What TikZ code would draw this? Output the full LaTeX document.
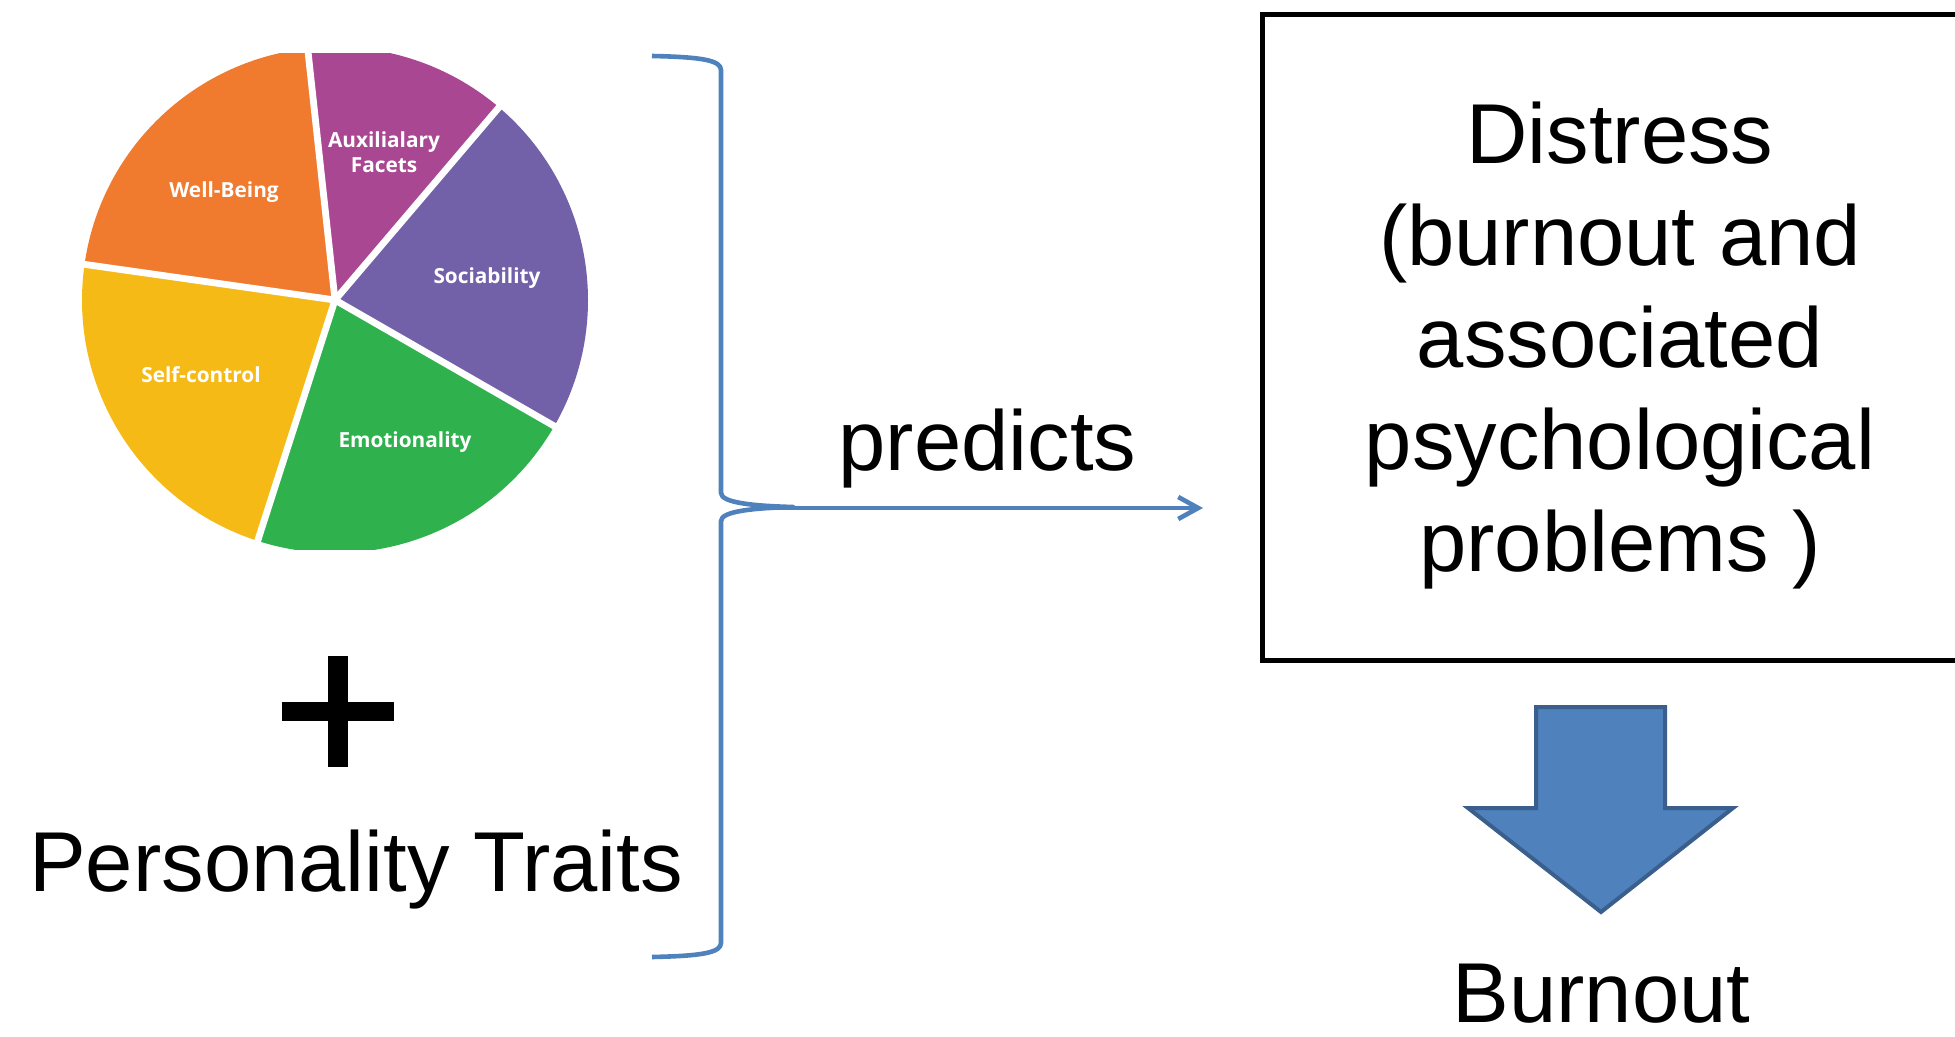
\documentclass[tikz,border=0pt]{standalone}
\usepackage{fontspec}
\setmainfont{Liberation Sans}
\newfontfamily\piefont{Open Sans}
\usetikzlibrary{arrows.meta}
\definecolor{cOrange}{RGB}{240,122,45}
\definecolor{cMagenta}{RGB}{170,71,146}
\definecolor{cViolet}{RGB}{114,97,169}
\definecolor{cGreen}{RGB}{47,177,77}
\definecolor{cYellow}{RGB}{246,186,23}
\definecolor{cBlue}{RGB}{79,129,189}
\definecolor{cBlueDark}{RGB}{58,95,140}
\tikzset{
  bigtext/.style={font=\fontsize{42.5}{51}\selectfont, inner sep=0pt, text=black},
  pielabel/.style={font=\piefont\bfseries\fontsize{10.4}{12.5}\selectfont, text=white, inner sep=0pt},
  sep/.style={white, line width=3.4pt},
  braceline/.style={cBlue, line width=2.3pt, line join=round},
  blockarrow/.style={fill=cBlue, draw=cBlueDark, line width=2pt, line join=miter}
}
\begin{document}
\begin{tikzpicture}[x=0.5pt,y=-0.5pt]
\useasboundingbox (0,0) rectangle (1955,1037);
\clip (0,0) rectangle (1955,1037);

% pie chart
\begin{scope}[shift={(335,300)}, yscale=-1]
  \clip (-260,-250) rectangle (260,246);
  \fill[cOrange]  (0,0) -- (96.2:253)  arc[start angle=96.2,  end angle=171.9, radius=253] -- cycle;
  \fill[cMagenta] (0,0) -- (49.6:253)  arc[start angle=49.6,  end angle=96.2,  radius=253] -- cycle;
  \fill[cViolet]  (0,0) -- (-29.9:253) arc[start angle=-29.9, end angle=49.6,  radius=253] -- cycle;
  \fill[cGreen]   (0,0) -- (-107.8:253) arc[start angle=-107.8, end angle=-29.9, radius=253] -- cycle;
  \fill[cYellow]  (0,0) -- (171.9:253) arc[start angle=171.9, end angle=252.2, radius=253] -- cycle;
  \foreach \a in {96.2,49.6,-29.9,-107.8,171.9}
    \draw[sep] (0,0) -- (\a:275);
\end{scope}

\node[pielabel] (wb) at (224,192) {Well-Being};
\node[pielabel, align=center] (aux) at (384,152) {Auxilialary\\Facets};
\node[pielabel] (soc) at (487,278) {Sociability};
\node[pielabel] (sc) at (201,375) {Self-control};
\node[pielabel] (emo) at (405,442) {Emotionality};

% plus sign
\fill[black] (282,701.5) rectangle (393.5,721);
\fill[black] (328,656) rectangle (347.5,767);

\node[bigtext, anchor=base] (traits) at (356,891) {Personality Traits};

% brace
\draw[braceline] (652,56) .. controls (700,57) and (721,60) .. (721,70)
  -- (721,493) .. controls (721,503) and (755,506) .. (793,507)
  .. controls (755,508) and (721,511) .. (721,521)
  -- (721,943) .. controls (721,953) and (700,956) .. (652,957);

\coordinate (bracetip) at (779,508);
\coordinate (arrowend) at (1203,508);
\draw[cBlue, line width=2.3pt, -{Straight Barb[length=10pt, width=11pt]}] (bracetip) -- (arrowend);
\node[bigtext, anchor=base] (predicts) at (987.5,471) {predicts};

% distress box
\node[draw=black, line width=2.35pt, inner sep=0pt, minimum width=365pt, minimum height=322.75pt, anchor=north west] (box) at (1260,12.5) {};
\node[bigtext, align=center] (distress) at (1620,345.5) {Distress\\(burnout and\\associated\\psychological\\problems )};

% block arrow
\draw[blockarrow] (1536,707) -- (1665,707) -- (1665,808) -- (1733,808) -- (1601,912) -- (1468,808) -- (1536,808) -- cycle;

\node[bigtext, anchor=base] (burnout) at (1601.5,1022.5) {Burnout};
\end{tikzpicture}
\end{document}
